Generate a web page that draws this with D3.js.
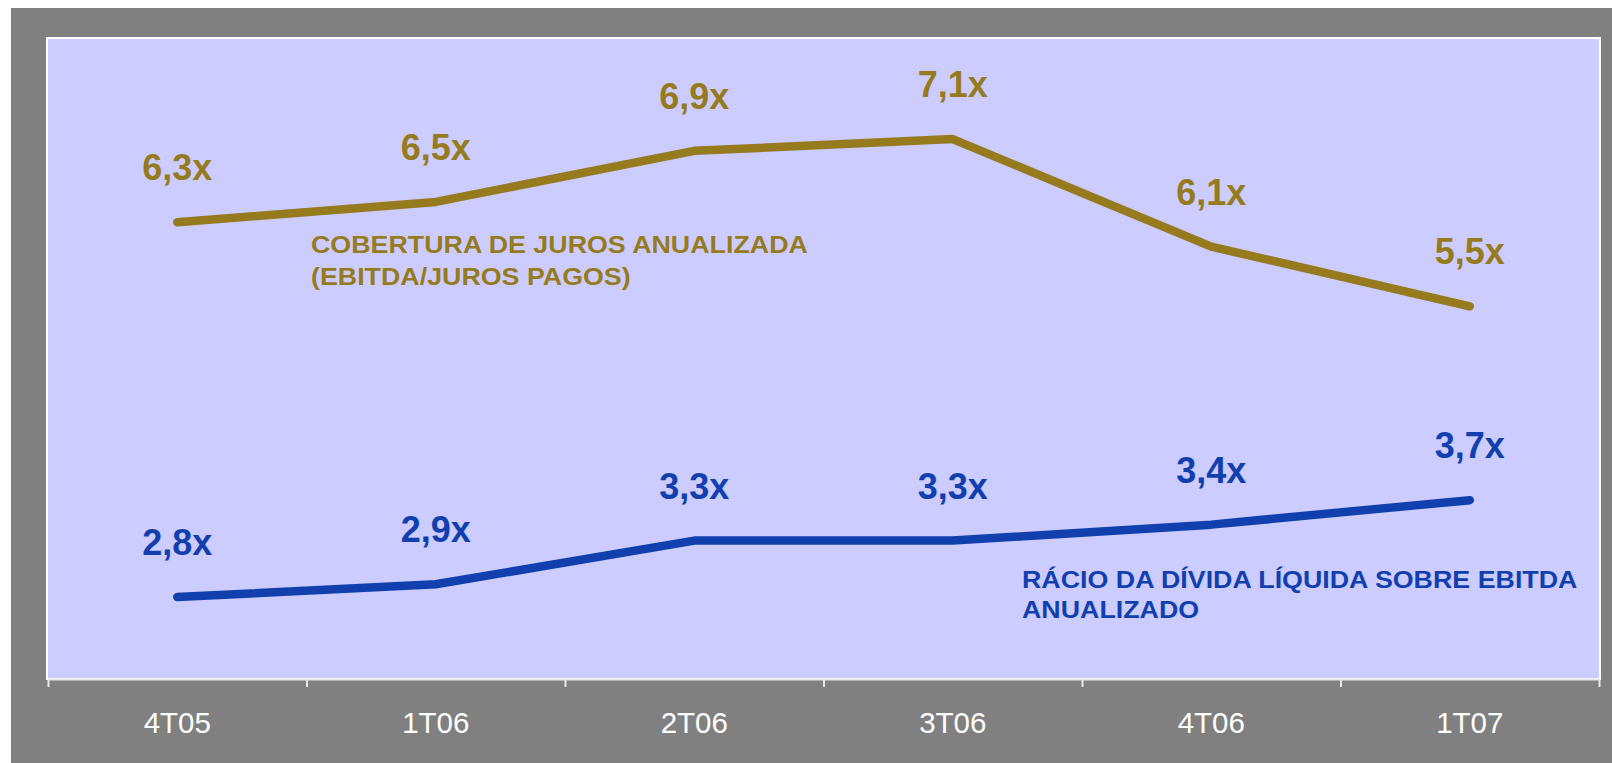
<!DOCTYPE html>
<html>
<head>
<meta charset="utf-8">
<script src="https://cdn.jsdelivr.net/npm/d3@7"></script>
<style>
  body { margin: 0; background: #fff; }
  svg { display: block; font-family: "Liberation Sans", Arial, sans-serif; }
</style>
</head>
<body>
<svg></svg>
<script>
var W = 1612, H = 763;
var margin = { top: 39, right: 13, bottom: 85, left: 48 },
    width = W - margin.left - margin.right,
    height = H - margin.top - margin.bottom;

var quarters = ["4T05", "1T06", "2T06", "3T06", "4T06", "1T07"];
// values estimated from line positions (labels are rounded)
var cobertura = [6.28, 6.47, 6.95, 7.06, 6.05, 5.49];
var racio = [2.76, 2.88, 3.29, 3.29, 3.44, 3.67];
var coberturaLabels = ["6,3x", "6,5x", "6,9x", "7,1x", "6,1x", "5,5x"];
var racioLabels = ["2,8x", "2,9x", "3,3x", "3,3x", "3,4x", "3,7x"];
var coberturaName = ["COBERTURA DE JUROS ANUALIZADA", "(EBITDA/JUROS PAGOS)"];
var racioName = ["RÁCIO DA DÍVIDA LÍQUIDA SOBRE EBITDA", "ANUALIZADO"];

var gold = "#967a1e", blue = "#1140ae";

var root = d3.select("svg")
    .attr("width", W)
    .attr("height", H);

// grey frame
root.append("rect")
    .attr("x", 11).attr("y", 8)
    .attr("width", W - 11).attr("height", H - 8)
    .attr("fill", "#808080");

var svg = root.append("g")
    .attr("transform", "translate(" + margin.left + "," + margin.top + ")");

// plot area
svg.append("rect")
    .attr("x", -1).attr("y", -1)
    .attr("width", width + 2).attr("height", height + 2)
    .attr("fill", "#ccccff")
    .attr("stroke", "#ffffff")
    .attr("stroke-width", 2);

var x = d3.scaleBand()
    .domain(quarters)
    .range([0, width]);

var y = d3.scaleLinear()
    .domain([2, 8])
    .range([height, 0]);

// category boundary ticks
var xb = d3.scaleLinear().domain([0, quarters.length]).range([0, width]);
var axis = svg.append("g")
    .attr("transform", "translate(0," + (height + 1) + ")")
    .call(d3.axisBottom(xb).tickValues(d3.range(quarters.length + 1)).tickFormat("").tickSize(8).tickSizeOuter(0));
axis.selectAll("path, line").attr("stroke", "#e8e8e8").attr("stroke-width", 2);

svg.append("g")
    .selectAll("text")
    .data(quarters)
    .enter().append("text")
    .attr("x", function(d) { return x(d) + x.bandwidth() / 2; })
    .attr("y", height + 55)
    .attr("text-anchor", "middle")
    .attr("fill", "#ffffff")
    .style("font-size", "29.5px")
    .text(function(d) { return d; });

var line = d3.line()
    .x(function(d, i) { return x(quarters[i]) + x.bandwidth() / 2; })
    .y(function(d) { return y(d); });

function drawSeries(values, labels, color) {
    svg.append("path")
        .datum(values)
        .attr("d", line)
        .attr("fill", "none")
        .attr("stroke", color)
        .attr("stroke-width", 8.5)
        .attr("stroke-linecap", "round")
        .attr("stroke-linejoin", "round");

    svg.append("g")
        .selectAll("text")
        .data(values)
        .enter().append("text")
        .attr("x", function(d, i) { return x(quarters[i]) + x.bandwidth() / 2; })
        .attr("y", function(d) { return y(d) - 42; })
        .attr("text-anchor", "middle")
        .attr("fill", color)
        .style("font-size", "36px")
        .style("font-weight", "bold")
        .text(function(d, i) { return labels[i]; });
}

drawSeries(cobertura, coberturaLabels, gold);
drawSeries(racio, racioLabels, blue);

// series names, text is a bit stretched sideways in the original
function drawName(lines, color, px, py, step) {
    var t = svg.append("text")
        .attr("transform", "translate(" + px + "," + py + ") scale(1.117,1)")
        .attr("fill", color)
        .style("font-size", "24px")
        .style("font-weight", "bold");
    lines.forEach(function(s, i) {
        t.append("tspan")
            .attr("x", 0)
            .attr("y", i * step)
            .text(s);
    });
}

drawName(coberturaName, gold, 311 - margin.left, 253 - margin.top, 32);
drawName(racioName, blue, 1022 - margin.left, 588 - margin.top, 30);
</script>
</body>
</html>
